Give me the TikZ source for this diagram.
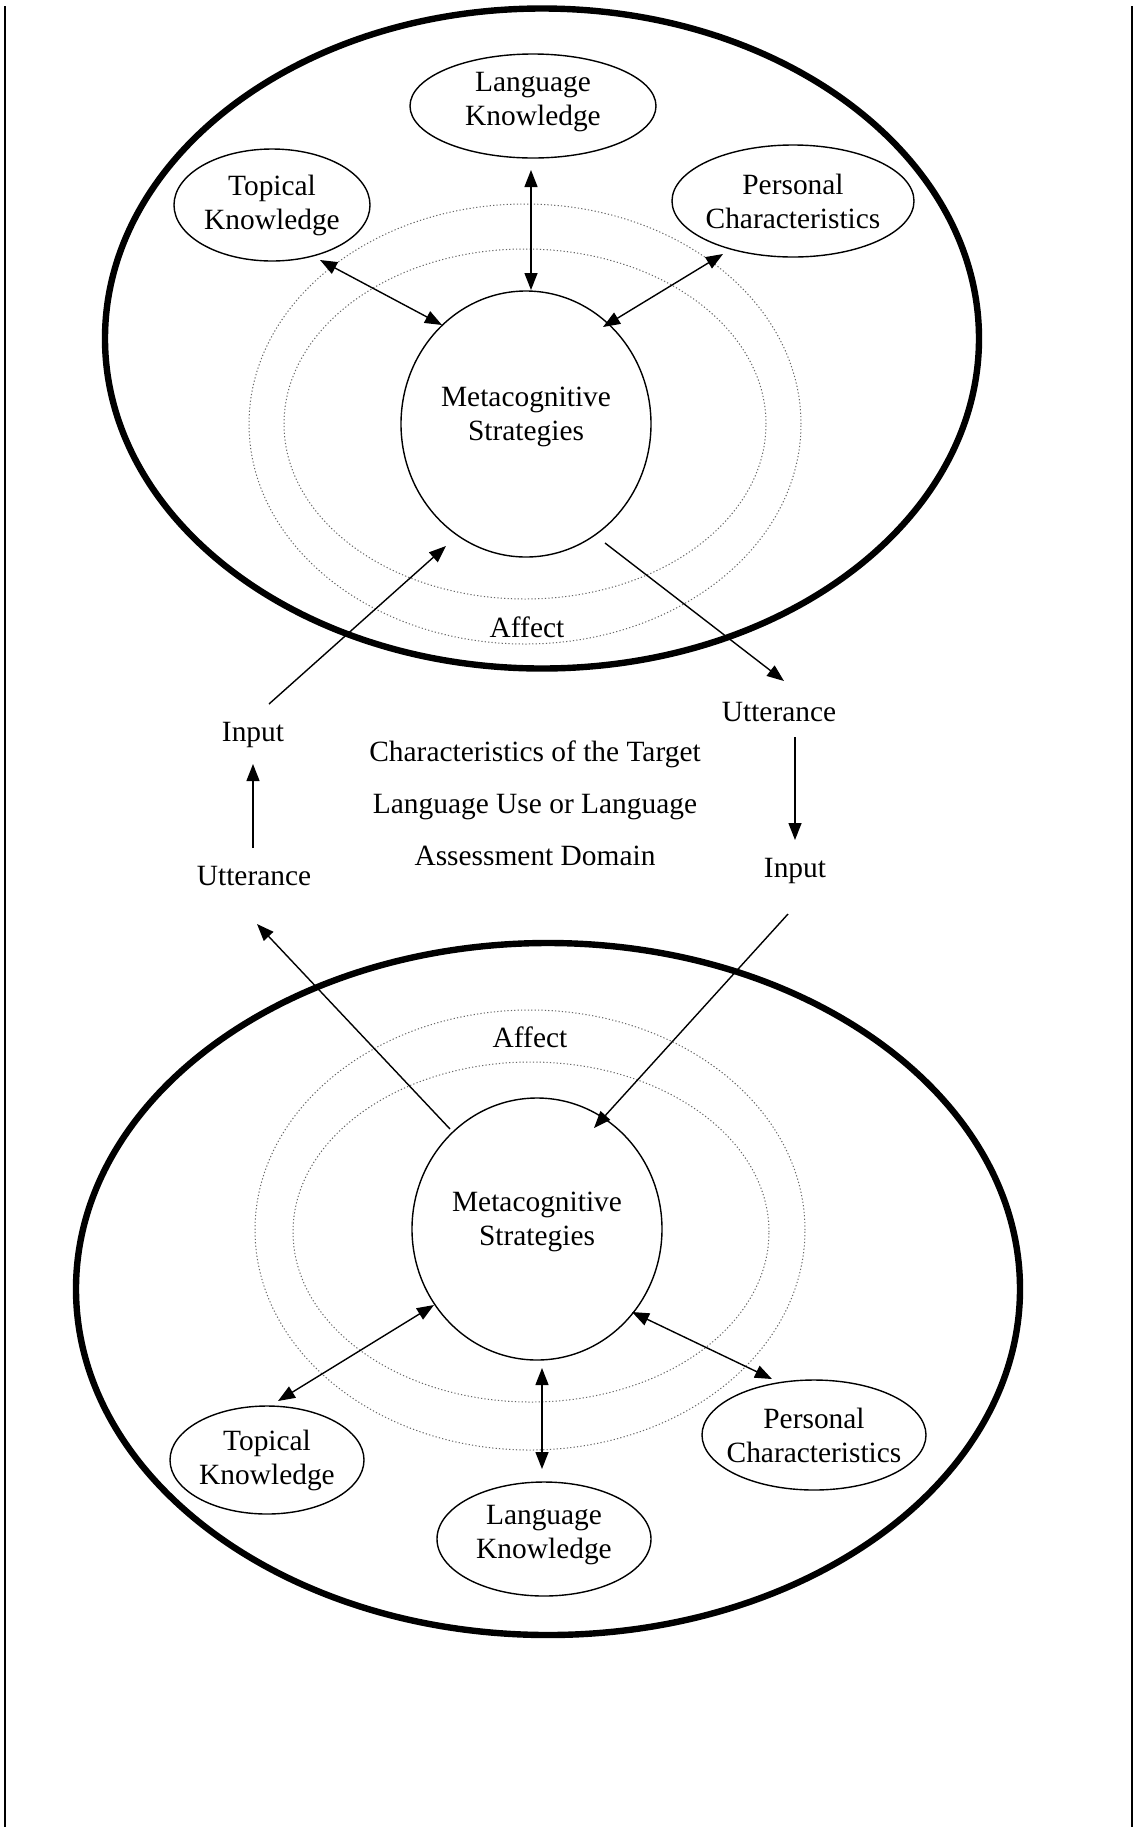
\documentclass[tikz,border=0pt]{standalone}
\usepackage{fontspec}
\setmainfont{Liberation Serif}
\usetikzlibrary{shapes.geometric,arrows.meta}
\begin{document}
\begin{tikzpicture}[x=0.5pt,y=-0.5pt,
  every node/.style={font=\fontsize{14.7}{17}\selectfont},
  outerell/.style={ellipse, draw, line width=3.2pt, inner sep=0pt},
  oval/.style={ellipse, draw, line width=0.7pt, inner sep=0pt},
  dotell/.style={ellipse, draw=black!60, line width=0.5pt, dash pattern=on 0.6pt off 1.1pt, inner sep=0pt},
  lbl/.style={align=center, inner sep=0pt},
  txt/.style={inner sep=0pt},
  tip/.tip={Triangle[length=8.5pt,width=6.5pt]},
  arr/.style={line width=0.7pt, -tip},
  darr/.style={line width=0.7pt, tip-tip},
  frameline/.style={line width=1pt}
]
\useasboundingbox (0,0) rectangle (1133,1827);
\fill[white] (0,0) rectangle (1133,1827);

% page side lines
\draw[frameline] (5,6) -- (5,1827);
\draw[frameline] (1132,6) -- (1132,1827);

% ---------- top diagram ----------
\node[dotell, minimum width=276pt, minimum height=220pt] (dotTa) at (525,424) {};
\node[dotell, minimum width=241pt, minimum height=175pt] (dotTb) at (525,424) {};
\node[outerell, minimum width=437pt, minimum height=330pt] (outT) at (542,338.5) {};
\node[oval, minimum width=125pt, minimum height=133pt,
      label={[lbl,yshift=3.5pt]center:Metacognitive\\Strategies}] (msT) at (526,424) {};
\node[oval, minimum width=123pt, minimum height=52pt,
      label={[lbl,yshift=2pt]center:Language\\Knowledge}] (lkT) at (533,106) {};
\node[oval, minimum width=98pt, minimum height=56pt,
      label={[lbl]center:Topical\\Knowledge}] (tkT) at (272,205) {};
\node[oval, minimum width=121pt, minimum height=56pt,
      label={[lbl]center:Personal\\Characteristics}] (pcT) at (793,201) {};
\node[txt] (afT) at (527,627) {Affect};

% ---------- middle ----------
\node[txt] (inL) at (253,735) {Input};
\node[txt] (utL) at (254,876) {Utterance};
\node[txt] (utR) at (779,712) {Utterance};
\node[txt] (inR) at (795,871) {Input};
\node[txt, align=center, font=\fontsize{14.7}{26}\selectfont] (dom) at (535,803)
  {Characteristics of the Target\\Language Use or Language\\Assessment Domain};

% ---------- bottom diagram ----------
\node[dotell, minimum width=275pt, minimum height=220pt] (dotBa) at (530,1230) {};
\node[dotell, minimum width=238pt, minimum height=170pt] (dotBb) at (531,1232) {};
\node[outerell, minimum width=472pt, minimum height=346pt] (outB) at (548,1289) {};
\node[oval, minimum width=125pt, minimum height=131pt,
      label={[lbl,yshift=3.7pt]center:Metacognitive\\Strategies}] (msB) at (537,1229) {};
\node[oval, minimum width=97pt, minimum height=54pt,
      label={[lbl]center:Topical\\Knowledge}] (tkB) at (267,1460) {};
\node[oval, minimum width=107pt, minimum height=57pt,
      label={[lbl,yshift=2pt]center:Language\\Knowledge}] (lkB) at (544,1539) {};
\node[oval, minimum width=112pt, minimum height=55pt,
      label={[lbl]center:Personal\\Characteristics}] (pcB) at (814,1435) {};
\node[txt] (afB) at (530,1037) {Affect};

% ---------- connectors ----------
\draw[darr] ([shift={(-2,64)}]lkT.center) -- ([shift={(5,-134)}]msT.center);
\draw[darr] ([shift={(48,55)}]tkT.center) -- ([shift={(-84,-99)}]msT.center);
\draw[darr] ([shift={(-70,53)}]pcT.center) -- ([shift={(77,-97)}]msT.center);
\draw[arr] ([shift={(16,-31)}]inL.center) -- ([shift={(-80,122)}]msT.center);
\draw[arr] ([shift={(79,119)}]msT.center) -- ([shift={(5,-31)}]utR.center);
\draw[arr] ([shift={(16,25)}]utR.center) -- ([shift={(0,-31)}]inR.center);
\draw[arr] ([shift={(-1,-28)}]utL.center) -- ([shift={(0,29)}]inL.center);
\draw[arr] ([shift={(-87,-100)}]msB.center) -- ([shift={(3,48)}]utL.center);
\draw[arr] ([shift={(-7,43)}]inR.center) -- ([shift={(57,-101)}]msB.center);
\draw[darr] ([shift={(11,-59)}]tkB.center) -- ([shift={(-103,76)}]msB.center);
\draw[darr] ([shift={(5,139)}]msB.center) -- ([shift={(-2,-70)}]lkB.center);
\draw[darr] ([shift={(95,83)}]msB.center) -- ([shift={(-42,-56)}]pcB.center);
\end{tikzpicture}
\end{document}
